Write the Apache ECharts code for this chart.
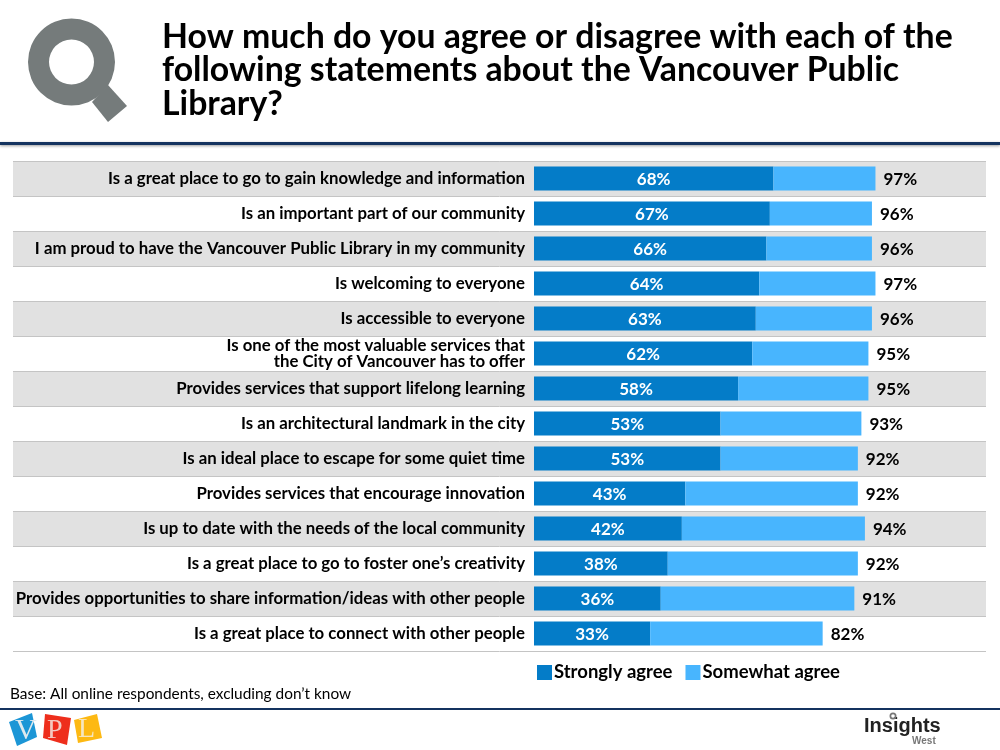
<!DOCTYPE html>
<html>
<head>
<meta charset="utf-8">
<script src="https://cdn.jsdelivr.net/npm/echarts@6/dist/echarts.min.js"></script>
<style>
html, body { margin: 0; padding: 0; background: #fff; }
#chartArea { width: 1000px; height: 750px; }
</style>
</head>
<body>
<div id="chartArea"></div>
<script>
var statements = [
    'Is a great place to go to gain knowledge and information',
    'Is an important part of our community',
    'I am proud to have the Vancouver Public Library in my community',
    'Is welcoming to everyone',
    'Is accessible to everyone',
    'Is one of the most valuable services that\nthe City of Vancouver has to offer',
    'Provides services that support lifelong learning',
    'Is an architectural landmark in the city',
    'Is an ideal place to escape for some quiet time',
    'Provides services that encourage innovation',
    'Is up to date with the needs of the local community',
    'Is a great place to go to foster one\u2019s creativity',
    'Provides opportunities to share information/ideas with other people',
    'Is a great place to connect with other people'
];
var stronglyAgree = [68, 67, 66, 64, 63, 62, 58, 53, 53, 43, 42, 38, 36, 33];
var somewhatAgree = [29, 29, 30, 33, 33, 33, 37, 40, 39, 49, 52, 54, 55, 49];
var netAgree = [97, 96, 96, 97, 96, 95, 95, 93, 92, 92, 94, 92, 91, 82];

var titleText = 'How much do you agree or disagree with each of the\nfollowing statements about the Vancouver Public\nLibrary?';
var baseText = 'Base: All online respondents, excluding don\u2019t know';

var FONT = 'Lato';
var myChart = echarts.init(document.getElementById('chartArea'));

var option = {
    animation: false,
    title: {
        text: titleText,
        left: 157,
        top: 15,
        textStyle: { fontFamily: FONT, fontSize: 33.8, fontWeight: 'bold', lineHeight: 33.5, color: '#000' }
    },
    legend: {
        left: 532,
        top: 658,
        itemWidth: 15,
        itemHeight: 15,
        itemGap: 13,
        icon: 'rect',
        selectedMode: false,
        textStyle: { fontFamily: FONT, fontSize: 18.5, fontWeight: 'bold', color: '#000', padding: [0, 0, 0, -3] },
        data: ['Strongly agree', 'Somewhat agree']
    },
    grid: { left: 13, right: 14, top: 161, height: 490, outerBoundsMode: 'none' },
    xAxis: {
        type: 'value',
        min: -148,
        max: 128.4,
        show: false
    },
    yAxis: {
        type: 'category',
        inverse: true,
        data: statements,
        axisLine: { show: false },
        axisTick: { show: false },
        splitLine: { show: true, lineStyle: { color: '#c4c4c4', width: 1 } },
        splitArea: { show: true, areaStyle: { color: ['#e1e1e1', '#ffffff'] } },
        axisLabel: {
            interval: 0,
            margin: -512,
            fontFamily: FONT,
            fontSize: 16.8,
            fontWeight: 'bold',
            lineHeight: 16,
            padding: [2, 0, 0, 0],
            color: '#000'
        }
    },
    series: [
        {
            name: 'Strongly agree',
            type: 'bar',
            stack: 'agree',
            barWidth: 24,
            data: stronglyAgree,
            itemStyle: { color: '#047cc8' },
            label: {
                show: true,
                position: 'inside',
                offset: [0, 1],
                formatter: '{c}%',
                fontFamily: FONT,
                fontSize: 17,
                fontWeight: 'bold',
                color: '#fff'
            }
        },
        {
            name: 'Somewhat agree',
            type: 'bar',
            stack: 'agree',
            barWidth: 24,
            data: somewhatAgree,
            itemStyle: { color: '#48b5fe' },
            label: {
                show: true,
                position: 'right',
                distance: 8,
                offset: [0, 1],
                formatter: function (p) { return netAgree[p.dataIndex] + '%'; },
                fontFamily: FONT,
                fontSize: 17,
                fontWeight: 'bold',
                color: '#000'
            }
        }
    ],
    graphic: [
        // header icon
        { type: 'ring', shape: { cx: 71.5, cy: 62, r: 43.5, r0: 22.5 }, style: { fill: '#757b7b' } },
        { type: 'polygon', shape: { points: [[108, 85], [127, 106], [108, 122], [92, 102]] }, style: { fill: '#757b7b' } },
        // rules
        { type: 'rect', shape: { x: 0, y: 142, width: 1000, height: 3 }, style: { fill: '#14335f', shadowBlur: 3, shadowColor: '#999', shadowOffsetY: 1 } },
        { type: 'rect', shape: { x: 0, y: 708, width: 1000, height: 2 }, style: { fill: '#14335f' } },
        // base note
        { type: 'text', x: 10, y: 687, style: { text: baseText, fontFamily: FONT, fontSize: 15.4, fill: '#000' } },
        // VPL logo
        { type: 'polygon', shape: { points: [[9, 722], [32, 713], [37, 737], [17, 746]] }, style: { fill: '#1c96d6' } },
        { type: 'text', x: 15, y: 716, style: { text: 'V', fontFamily: 'Liberation Serif', fontSize: 30, fill: '#dfe9ee' } },
        { type: 'polygon', shape: { points: [[45, 714], [71, 718], [67, 745], [43, 738]] }, style: { fill: '#ee2e1c' } },
        { type: 'text', x: 47, y: 717, style: { text: 'P', fontFamily: 'Liberation Serif', fontSize: 28, fill: '#f3c9c0' } },
        { type: 'polygon', shape: { points: [[74, 720], [97, 714], [102, 738], [78, 743]] }, style: { fill: '#fdb913' } },
        { type: 'text', x: 78, y: 716, style: { text: 'L', fontFamily: 'Liberation Serif', fontSize: 28, fill: '#f5e6c0' } },
        // Insights West logo
        { type: 'text', x: 864, y: 716, style: { text: 'Insights', fontFamily: 'Liberation Sans', fontSize: 20, fontWeight: 'bold', fill: '#222' } },
        { type: 'text', x: 912, y: 736, style: { text: 'West', fontFamily: 'Liberation Sans', fontSize: 10, fontWeight: 'bold', fill: '#777' } },
        { type: 'ring', shape: { cx: 893, cy: 716, r: 3.5, r0: 1.8 }, style: { fill: '#777' } }
    ]
};

option && myChart.setOption(option);
</script>
</body>
</html>
